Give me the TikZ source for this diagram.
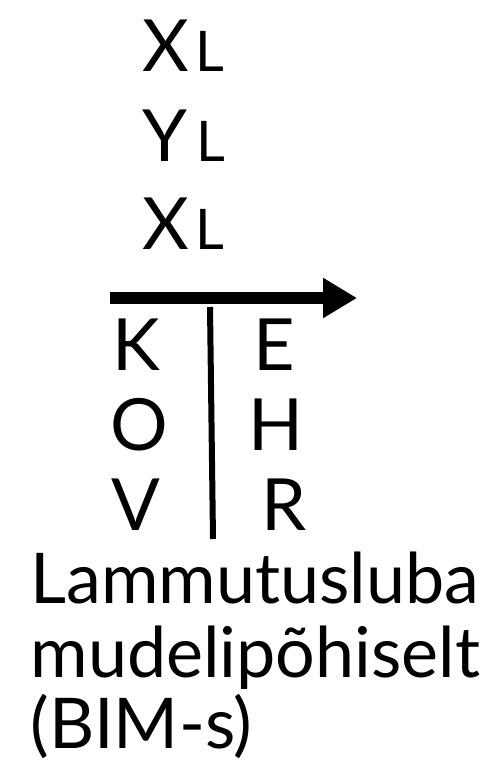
\documentclass[tikz,border=0pt]{standalone}
\usepackage{fontspec}
\setmainfont{Lato}
\usetikzlibrary{arrows.meta}

\begin{document}
\begin{tikzpicture}[
      x=0.5pt,y=-0.5pt,
      big/.style={anchor=base west,inner sep=0pt,font=\fontsize{36}{40}\selectfont},
      sub/.style={anchor=base west,inner sep=0pt,font=\fontsize{28}{32}\selectfont},
      title/.style={anchor=base west,inner sep=0pt,font=\fontsize{35}{40}\selectfont},
      arrow/.style={line width=6pt,-{Triangle[length=17pt,width=19pt]}},
      bar/.style={line width=3pt}]
    \useasboundingbox (0,0) rectangle (482,764);
    % top letters
    \node[big] (x1) at (142,72) {X};
    \node[sub] (l1) at (195,72) {L};
    \node[big] (y1) at (142,162) {Y};
    \node[sub] (l2) at (196,162) {L};
    \node[big] (x2) at (142,250) {X};
    \node[sub] (l3) at (195,250) {L};
    % arrow and bar
    \coordinate (ain) at (110,298);
    \coordinate (aout) at (357,298);
    \draw[arrow] (ain)--(aout);
    \coordinate (btop) at (210,307);
    \coordinate (bbot) at (213,539);
    \draw[bar] (btop)--(bbot);
    % left and right columns
    \node[big] (k) at (112,370) {K};
    \node[big] (o) at (110,450) {O};
    \node[big] (v) at (111,530) {V};
    \node[big] (e) at (253,370) {E};
    \node[big] (h) at (248,450) {H};
    \node[big] (r) at (261,530) {R};
    % caption, one node per line
    \node[title] (cap1) at (30,603) {Lammutusluba};
    \node[title] (cap2) at (30,677) {mudelipõhiselt};
    \node[title] (cap3) at (30,748) {(BIM-s)};
\end{tikzpicture}
\end{document}
